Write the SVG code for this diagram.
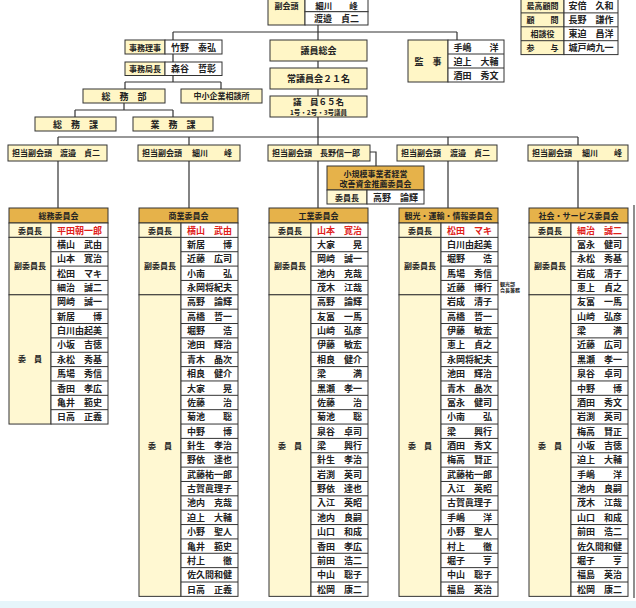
<svg xmlns="http://www.w3.org/2000/svg" width="636" height="608" viewBox="0 0 636 608">
<style>
text{font-family:"Noto Sans CJK JP","Noto Sans CJK SC",sans-serif;font-weight:bold;fill:#222}
.b{fill:#fff6c6;stroke:#333;stroke-width:1}
.w{fill:#fff;stroke:#333;stroke-width:1}
.hdr{fill:#e6b24a;stroke:#333;stroke-width:1}
.lab{fill:#fff8d2;stroke:#333;stroke-width:1}
.t{font-size:9px;text-anchor:middle}
.s{font-size:8px;text-anchor:middle}
.l{font-size:8px}
.red{fill:#e0201a}
.rl{fill:none;stroke:#333;stroke-width:1}
#connectors path{fill:none;stroke:#333;stroke-width:1.2}
</style>
<rect x="0" y="0" width="636" height="608" fill="#fff"/>
<rect x="0" y="601" width="636" height="7" fill="#e6f5fa"/>
<line x1="634" y1="205" x2="634" y2="598" stroke="#444" stroke-width="1.2"/>

<g id="connectors">
<path d="M318 25V40M318 61V68M318 89V96M318 117V145M318 161V208"/>
<path d="M173 32H457M173 32V40M457 32V40"/>
<path d="M173 54V62M173 75V82M125 82H221M125 82V89M221 82V89"/>
<path d="M124 103V110M75 110H173M75 110V117M173 110V117"/>
<path d="M58 137H578M58 137V145M189 137V145M448 137V145M578 137V145"/>
<path d="M58 161V208M189 161V208M448 161V208M578 161V208"/>
<path d="M370 152H376V166"/>
</g>

<g id="fukukaito">
<rect class="b" x="268" y="-16" width="37" height="41"/>
<rect class="w" x="305" y="-16" width="63" height="27.7"/>
<rect class="w" x="305" y="11.7" width="63" height="13.3"/>
<text class="s" x="286.5" y="8.5">副会頭</text>
<text class="t" x="336.5" y="9" style="font-size:8.5px">細川　　峰</text>
<text class="t" x="336.5" y="21.5">渡邉　貞二</text>
</g>

<g id="komon">
<rect class="b" x="521" y="-1" width="43" height="55.6"/>
<rect class="w" x="564" y="-1" width="54" height="55.6"/>
<path class="rl" d="M521 12.9H618M521 26.8H618M521 40.7H618"/>
<text class="s" x="542.5" y="9">最高顧問</text>
<text class="t" x="591" y="9">安倍　久和</text>
<text class="s" x="542.5" y="23">顧　　問</text>
<text class="t" x="591" y="23">長野　謙作</text>
<text class="s" x="542.5" y="37">相談役</text>
<text class="t" x="591" y="37">東迫　昌洋</text>
<text class="s" x="542.5" y="51">参　　与</text>
<text class="t" x="591" y="51">城戸崎九一</text>
</g>

<g id="jimuriji">
<rect class="b" x="125" y="40" width="40" height="14"/>
<rect class="w" x="165" y="40" width="57" height="14"/>
<text class="s" x="145" y="50.5">事務理事</text>
<text class="t" x="193.5" y="50.5">竹野　泰弘</text>
</g>
<g id="jimukyokucho">
<rect class="b" x="125" y="62" width="40" height="13.5"/>
<rect class="w" x="165" y="62" width="57" height="13.5"/>
<text class="s" x="145" y="72.3">事務局長</text>
<text class="t" x="193.5" y="72.3">森谷　哲彰</text>
</g>
<g id="somubu"><rect class="b" x="83" y="89" width="82" height="14"/><text class="t" x="124" y="99.5">総　務　部</text></g>
<g id="chusho"><rect class="b" x="181" y="89" width="81" height="14"/><text class="s" x="221.5" y="99.3">中小企業相談所</text></g>
<g id="somuka"><rect class="b" x="35" y="117" width="81" height="14"/><text class="t" x="75.5" y="127.5">総　務　課</text></g>
<g id="gyomuka"><rect class="b" x="133" y="117" width="80" height="14"/><text class="t" x="173" y="127.5">業　務　課</text></g>

<g id="giinsokai"><rect class="b" x="270" y="40" width="97" height="21"/><text class="t" x="318.5" y="54">議員総会</text></g>
<g id="jogiinkai"><rect class="b" x="270" y="68" width="97" height="21"/><text class="t" x="318.5" y="82">常議員会２１名</text></g>
<g id="giin"><rect class="b" x="270" y="96" width="97" height="21"/><text class="t" x="318.5" y="105" style="font-size:8.5px">議　員６５名</text><text class="t" x="318.5" y="114.5" style="font-size:6.5px">1号・2号・3号議員</text></g>

<g id="kanji">
<rect class="b" x="408" y="40" width="40" height="42"/>
<rect class="w" x="448" y="40" width="56" height="42"/>
<path class="rl" d="M448 54H504M448 68H504"/>
<text class="t" x="428" y="64.5">監　事</text>
<text class="t" x="476" y="50.5">手嶋　　洋</text>
<text class="t" x="476" y="64.5">迫上　大輔</text>
<text class="t" x="476" y="78.5">酒田　秀文</text>
</g>

<g id="tanto1"><rect class="b" x="8" y="145" width="99" height="16"/><text class="l" x="12" y="156">担当副会頭</text><text class="l" x="60" y="156">渡邉　貞二</text></g>
<g id="tanto2"><rect class="b" x="138" y="145" width="102" height="16"/><text class="l" x="142" y="156">担当副会頭</text><text class="l" x="192" y="156">細川　　峰</text></g>
<g id="tanto3"><rect class="b" x="268" y="145" width="102" height="16"/><text class="l" x="272" y="156">担当副会頭</text><text class="l" x="320" y="156">長野信一郎</text></g>
<g id="tanto4"><rect class="b" x="397" y="145" width="100" height="16"/><text class="l" x="401" y="156">担当副会頭</text><text class="l" x="450" y="156">渡邉　貞二</text></g>
<g id="tanto5"><rect class="b" x="528" y="145" width="100" height="16"/><text class="l" x="532" y="156">担当副会頭</text><text class="l" x="582" y="156">細川　　峰</text></g>

<g id="shokibo">
<rect class="hdr" x="327" y="166" width="97" height="24"/>
<rect class="lab" x="327" y="190" width="40" height="14"/>
<rect class="w" x="367" y="190" width="57" height="14"/>
<text class="s" x="375.5" y="176.5">小規模事業者経営</text>
<text class="s" x="375.5" y="187">改善資金推薦委員会</text>
<text class="s" x="347" y="200.5">委員長</text>
<text class="t" x="395.5" y="200.5">高野　論輝</text>
</g>

<g id="col-somu" transform="translate(9,0)">
<rect class="hdr" x="0" y="208" width="99" height="15"/>
<text class="s" x="49.5" y="219">総務委員会</text>
<rect class="lab" x="0" y="223" width="42" height="14.36"/>
<rect class="lab" x="0" y="237.36" width="42" height="57.44"/>
<rect class="lab" x="0" y="294.8" width="42" height="129.24"/>
<rect class="w" x="42" y="223" width="57" height="201.04"/>
<path class="rl" d="M42 237.36H99M42 251.72H99M42 266.08H99M42 280.44H99M42 294.8H99M42 309.16H99M42 323.52H99M42 337.88H99M42 352.24H99M42 366.6H99M42 380.96H99M42 395.32H99M42 409.68H99"/>
<text class="s" x="21" y="233.6">委員長</text>
<text class="s" x="21" y="269">副委員長</text>
<text class="s" x="21" y="362.3">委　員</text>
<text class="t red" x="70.5" y="233.6">平田朝一郎</text>
<text class="t" x="70.5" y="247.96">横山　武由</text>
<text class="t" x="70.5" y="262.32">山本　寛治</text>
<text class="t" x="70.5" y="276.68">松田　マキ</text>
<text class="t" x="70.5" y="291.04">細治　誠二</text>
<text class="t" x="70.5" y="305.4">岡崎　誠一</text>
<text class="t" x="70.5" y="319.76">新居　　博</text>
<text class="t" x="70.5" y="334.12">白川由起美</text>
<text class="t" x="70.5" y="348.48">小坂　吉徳</text>
<text class="t" x="70.5" y="362.84">永松　秀基</text>
<text class="t" x="70.5" y="377.2">馬場　秀信</text>
<text class="t" x="70.5" y="391.56">香田　孝広</text>
<text class="t" x="70.5" y="405.92">亀井　範史</text>
<text class="t" x="70.5" y="420.28">日高　正義</text>
</g>

<g id="col-shogyo" transform="translate(139,0)">
<rect class="hdr" x="0" y="208" width="99" height="15"/>
<text class="s" x="49.5" y="219">商業委員会</text>
<rect class="lab" x="0" y="223" width="42" height="14.36"/>
<rect class="lab" x="0" y="237.36" width="42" height="57.44"/>
<rect class="lab" x="0" y="294.8" width="42" height="301.56"/>
<rect class="w" x="42" y="223" width="57" height="373.36"/>
<path class="rl" d="M42 237.36H99M42 251.72H99M42 266.08H99M42 280.44H99M42 294.8H99M42 309.16H99M42 323.52H99M42 337.88H99M42 352.24H99M42 366.6H99M42 380.96H99M42 395.32H99M42 409.68H99M42 424.04H99M42 438.4H99M42 452.76H99M42 467.12H99M42 481.48H99M42 495.84H99M42 510.2H99M42 524.56H99M42 538.92H99M42 553.28H99M42 567.64H99M42 582H99"/>
<text class="s" x="21" y="233.6">委員長</text>
<text class="s" x="21" y="269">副委員長</text>
<text class="s" x="21" y="448.5">委　員</text>
<text class="t red" x="70.5" y="233.6">横山　武由</text>
<text class="t" x="70.5" y="247.96">新居　　博</text>
<text class="t" x="70.5" y="262.32">近藤　広司</text>
<text class="t" x="70.5" y="276.68">小南　　弘</text>
<text class="t" x="70.5" y="291.04">永岡将紀夫</text>
<text class="t" x="70.5" y="305.4">高野　論輝</text>
<text class="t" x="70.5" y="319.76">高橋　哲一</text>
<text class="t" x="70.5" y="334.12">堀野　　浩</text>
<text class="t" x="70.5" y="348.48">池田　輝治</text>
<text class="t" x="70.5" y="362.84">青木　晶次</text>
<text class="t" x="70.5" y="377.2">相良　健介</text>
<text class="t" x="70.5" y="391.56">大家　　晃</text>
<text class="t" x="70.5" y="405.92">佐藤　　治</text>
<text class="t" x="70.5" y="420.28">菊池　　聡</text>
<text class="t" x="70.5" y="434.64">中野　　博</text>
<text class="t" x="70.5" y="449">針生　孝治</text>
<text class="t" x="70.5" y="463.36">野依　達也</text>
<text class="t" x="70.5" y="477.72">武藤祐一郎</text>
<text class="t" x="70.5" y="492.08">古賀眞理子</text>
<text class="t" x="70.5" y="506.44">池内　克哉</text>
<text class="t" x="70.5" y="520.8">迫上　大輔</text>
<text class="t" x="70.5" y="535.16">小野　聖人</text>
<text class="t" x="70.5" y="549.52">亀井　範史</text>
<text class="t" x="70.5" y="563.88">村上　　徹</text>
<text class="t" x="70.5" y="578.24">佐久間和健</text>
<text class="t" x="70.5" y="592.6">日高　正義</text>
</g>

<g id="col-kogyo" transform="translate(269,0)">
<rect class="hdr" x="0" y="208" width="99" height="15"/>
<text class="s" x="49.5" y="219">工業委員会</text>
<rect class="lab" x="0" y="223" width="42" height="14.36"/>
<rect class="lab" x="0" y="237.36" width="42" height="57.44"/>
<rect class="lab" x="0" y="294.8" width="42" height="301.56"/>
<rect class="w" x="42" y="223" width="57" height="373.36"/>
<path class="rl" d="M42 237.36H99M42 251.72H99M42 266.08H99M42 280.44H99M42 294.8H99M42 309.16H99M42 323.52H99M42 337.88H99M42 352.24H99M42 366.6H99M42 380.96H99M42 395.32H99M42 409.68H99M42 424.04H99M42 438.4H99M42 452.76H99M42 467.12H99M42 481.48H99M42 495.84H99M42 510.2H99M42 524.56H99M42 538.92H99M42 553.28H99M42 567.64H99M42 582H99"/>
<text class="s" x="21" y="233.6">委員長</text>
<text class="s" x="21" y="269">副委員長</text>
<text class="s" x="21" y="448.5">委　員</text>
<text class="t red" x="70.5" y="233.6">山本　寛治</text>
<text class="t" x="70.5" y="247.96">大家　　晃</text>
<text class="t" x="70.5" y="262.32">岡崎　誠一</text>
<text class="t" x="70.5" y="276.68">池内　克哉</text>
<text class="t" x="70.5" y="291.04">茂木　江哉</text>
<text class="t" x="70.5" y="305.4">高野　論輝</text>
<text class="t" x="70.5" y="319.76">友冨　一馬</text>
<text class="t" x="70.5" y="334.12">山崎　弘彦</text>
<text class="t" x="70.5" y="348.48">伊藤　敏宏</text>
<text class="t" x="70.5" y="362.84">相良　健介</text>
<text class="t" x="70.5" y="377.2">梁　　　満</text>
<text class="t" x="70.5" y="391.56">黒瀬　孝一</text>
<text class="t" x="70.5" y="405.92">佐藤　　治</text>
<text class="t" x="70.5" y="420.28">菊池　　聡</text>
<text class="t" x="70.5" y="434.64">泉谷　卓司</text>
<text class="t" x="70.5" y="449">梁　　興行</text>
<text class="t" x="70.5" y="463.36">針生　孝治</text>
<text class="t" x="70.5" y="477.72">岩渕　英司</text>
<text class="t" x="70.5" y="492.08">野依　達也</text>
<text class="t" x="70.5" y="506.44">入江　英昭</text>
<text class="t" x="70.5" y="520.8">池内　良嗣</text>
<text class="t" x="70.5" y="535.16">山口　和成</text>
<text class="t" x="70.5" y="549.52">香田　孝広</text>
<text class="t" x="70.5" y="563.88">前田　浩二</text>
<text class="t" x="70.5" y="578.24">中山　聡子</text>
<text class="t" x="70.5" y="592.6">松岡　康二</text>
</g>

<g id="col-kanko" transform="translate(399,0)">
<rect class="hdr" x="0" y="208" width="99" height="15"/>
<text class="s" x="49.5" y="219">観光・運輸・情報委員会</text>
<rect class="lab" x="0" y="223" width="42" height="14.36"/>
<rect class="lab" x="0" y="237.36" width="42" height="57.44"/>
<rect class="lab" x="0" y="294.8" width="42" height="301.56"/>
<rect class="w" x="42" y="223" width="57" height="373.36"/>
<path class="rl" d="M42 237.36H99M42 251.72H99M42 266.08H99M42 280.44H99M42 294.8H99M42 309.16H99M42 323.52H99M42 337.88H99M42 352.24H99M42 366.6H99M42 380.96H99M42 395.32H99M42 409.68H99M42 424.04H99M42 438.4H99M42 452.76H99M42 467.12H99M42 481.48H99M42 495.84H99M42 510.2H99M42 524.56H99M42 538.92H99M42 553.28H99M42 567.64H99M42 582H99"/>
<text class="s" x="21" y="233.6">委員長</text>
<text class="s" x="21" y="269">副委員長</text>
<text class="s" x="21" y="448.5">委　員</text>
<text class="t red" x="70.5" y="233.6">松田　マキ</text>
<text class="t" x="70.5" y="247.96">白川由起美</text>
<text class="t" x="70.5" y="262.32">堀野　　浩</text>
<text class="t" x="70.5" y="276.68">馬場　秀信</text>
<text class="t" x="70.5" y="291.04">近藤　博行</text>
<text x="101" y="285.5" style="font-size:5px">観光部</text>
<text x="101" y="291.5" style="font-size:5px">会長兼務</text>
<text class="t" x="70.5" y="305.4">岩成　清子</text>
<text class="t" x="70.5" y="319.76">高橋　哲一</text>
<text class="t" x="70.5" y="334.12">伊藤　敏宏</text>
<text class="t" x="70.5" y="348.48">恵上　貞之</text>
<text class="t" x="70.5" y="362.84">永岡将紀夫</text>
<text class="t" x="70.5" y="377.2">池田　輝治</text>
<text class="t" x="70.5" y="391.56">青木　晶次</text>
<text class="t" x="70.5" y="405.92">冨永　健司</text>
<text class="t" x="70.5" y="420.28">小南　　弘</text>
<text class="t" x="70.5" y="434.64">梁　　興行</text>
<text class="t" x="70.5" y="449">酒田　秀文</text>
<text class="t" x="70.5" y="463.36">梅高　賢正</text>
<text class="t" x="70.5" y="477.72">武藤祐一郎</text>
<text class="t" x="70.5" y="492.08">入江　英昭</text>
<text class="t" x="70.5" y="506.44">古賀眞理子</text>
<text class="t" x="70.5" y="520.8">手嶋　　洋</text>
<text class="t" x="70.5" y="535.16">小野　聖人</text>
<text class="t" x="70.5" y="549.52">村上　　徹</text>
<text class="t" x="70.5" y="563.88">堀子　　亨</text>
<text class="t" x="70.5" y="578.24">中山　聡子</text>
<text class="t" x="70.5" y="592.6">福島　英治</text>
</g>

<g id="col-shakai" transform="translate(529,0)">
<rect class="hdr" x="0" y="208" width="99" height="15"/>
<text class="s" x="49.5" y="219">社会・サービス委員会</text>
<rect class="lab" x="0" y="223" width="42" height="14.36"/>
<rect class="lab" x="0" y="237.36" width="42" height="57.44"/>
<rect class="lab" x="0" y="294.8" width="42" height="301.56"/>
<rect class="w" x="42" y="223" width="57" height="373.36"/>
<path class="rl" d="M42 237.36H99M42 251.72H99M42 266.08H99M42 280.44H99M42 294.8H99M42 309.16H99M42 323.52H99M42 337.88H99M42 352.24H99M42 366.6H99M42 380.96H99M42 395.32H99M42 409.68H99M42 424.04H99M42 438.4H99M42 452.76H99M42 467.12H99M42 481.48H99M42 495.84H99M42 510.2H99M42 524.56H99M42 538.92H99M42 553.28H99M42 567.64H99M42 582H99"/>
<text class="s" x="21" y="233.6">委員長</text>
<text class="s" x="21" y="269">副委員長</text>
<text class="s" x="21" y="448.5">委　員</text>
<text class="t red" x="70.5" y="233.6">細治　誠二</text>
<text class="t" x="70.5" y="247.96">冨永　健司</text>
<text class="t" x="70.5" y="262.32">永松　秀基</text>
<text class="t" x="70.5" y="276.68">岩成　清子</text>
<text class="t" x="70.5" y="291.04">恵上　貞之</text>
<text class="t" x="70.5" y="305.4">友冨　一馬</text>
<text class="t" x="70.5" y="319.76">山崎　弘彦</text>
<text class="t" x="70.5" y="334.12">梁　　　満</text>
<text class="t" x="70.5" y="348.48">近藤　広司</text>
<text class="t" x="70.5" y="362.84">黒瀬　孝一</text>
<text class="t" x="70.5" y="377.2">泉谷　卓司</text>
<text class="t" x="70.5" y="391.56">中野　　博</text>
<text class="t" x="70.5" y="405.92">酒田　秀文</text>
<text class="t" x="70.5" y="420.28">岩渕　英司</text>
<text class="t" x="70.5" y="434.64">梅高　賢正</text>
<text class="t" x="70.5" y="449">小坂　吉徳</text>
<text class="t" x="70.5" y="463.36">迫上　大輔</text>
<text class="t" x="70.5" y="477.72">手嶋　　洋</text>
<text class="t" x="70.5" y="492.08">池内　良嗣</text>
<text class="t" x="70.5" y="506.44">茂木　江哉</text>
<text class="t" x="70.5" y="520.8">山口　和成</text>
<text class="t" x="70.5" y="535.16">前田　浩二</text>
<text class="t" x="70.5" y="549.52">佐久間和健</text>
<text class="t" x="70.5" y="563.88">堀子　　亨</text>
<text class="t" x="70.5" y="578.24">福島　英治</text>
<text class="t" x="70.5" y="592.6">松岡　康二</text>
</g>
</svg>
